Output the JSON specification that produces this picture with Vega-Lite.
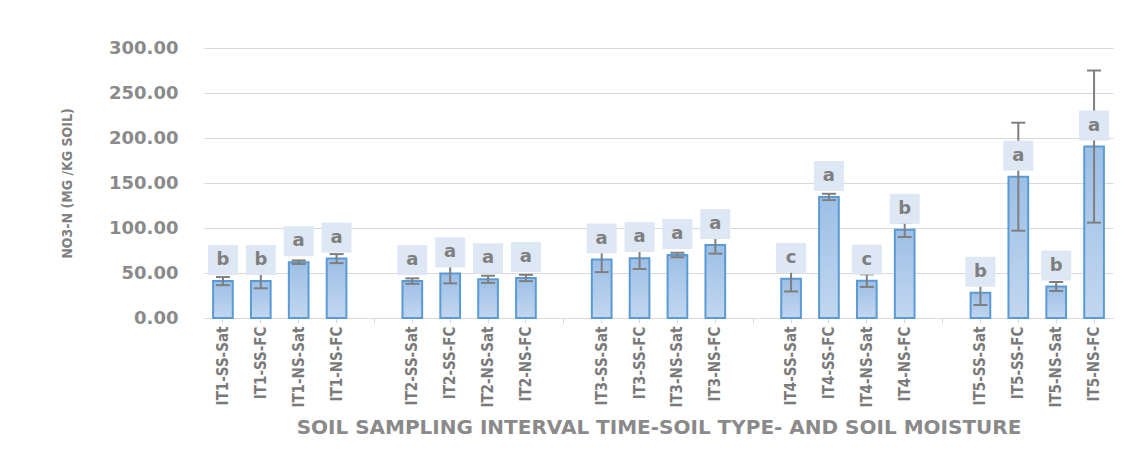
{
  "$schema": "https://vega.github.io/schema/vega-lite/v6.json",
  "width": 909,
  "height": 270,
  "autosize": {"type": "none"},
  "padding": {"left": 204, "top": 48, "right": 22, "bottom": 137},
  "background": "white",
  "config": {"view": {"stroke": null}},
  "data": {
    "values": [
      {"treatment": "IT1-SS-Sat", "mean": 41, "lo": 36.5, "hi": 45.5, "letter": "b"},
      {"treatment": "IT1-SS-FC", "mean": 41, "lo": 33, "hi": 49, "letter": "b"},
      {"treatment": "IT1-NS-Sat", "mean": 62, "lo": 60, "hi": 64, "letter": "a"},
      {"treatment": "IT1-NS-FC", "mean": 66, "lo": 61, "hi": 71, "letter": "a"},
      {"treatment": "IT2-SS-Sat", "mean": 41, "lo": 38, "hi": 44, "letter": "a"},
      {"treatment": "IT2-SS-FC", "mean": 49.5, "lo": 38.5, "hi": 60.5, "letter": "a"},
      {"treatment": "IT2-NS-Sat", "mean": 43, "lo": 39, "hi": 47, "letter": "a"},
      {"treatment": "IT2-NS-FC", "mean": 44.5, "lo": 41, "hi": 48, "letter": "a"},
      {"treatment": "IT3-SS-Sat", "mean": 65, "lo": 51, "hi": 79, "letter": "a"},
      {"treatment": "IT3-SS-FC", "mean": 66.5, "lo": 54.5, "hi": 78.5, "letter": "a"},
      {"treatment": "IT3-NS-Sat", "mean": 70, "lo": 67.5, "hi": 72.5, "letter": "a"},
      {"treatment": "IT3-NS-FC", "mean": 81, "lo": 71.5, "hi": 90.5, "letter": "a"},
      {"treatment": "IT4-SS-Sat", "mean": 43.5, "lo": 29.5, "hi": 57.5, "letter": "c"},
      {"treatment": "IT4-SS-FC", "mean": 134.5, "lo": 131, "hi": 138, "letter": "a"},
      {"treatment": "IT4-NS-Sat", "mean": 41.5, "lo": 34.5, "hi": 48.5, "letter": "c"},
      {"treatment": "IT4-NS-FC", "mean": 98, "lo": 90, "hi": 106, "letter": "b"},
      {"treatment": "IT5-SS-Sat", "mean": 28, "lo": 14.5, "hi": 41.5, "letter": "b"},
      {"treatment": "IT5-SS-FC", "mean": 157, "lo": 97, "hi": 217, "letter": "a"},
      {"treatment": "IT5-NS-Sat", "mean": 35, "lo": 30, "hi": 40, "letter": "b"},
      {"treatment": "IT5-NS-FC", "mean": 190.5, "lo": 106, "hi": 275, "letter": "a"}
    ]
  },
  "layer": [
    {
      "mark": {
        "type": "bar",
        "fill": {
          "gradient": "linear",
          "x1": 0, "y1": 0, "x2": 0, "y2": 1,
          "stops": [
            {"offset": 0, "color": "#9dbfe6"},
            {"offset": 1, "color": "#c2d7ef"}
          ]
        },
        "stroke": "#5b9bd5",
        "strokeWidth": 2
      },
      "encoding": {
        "x": {
          "field": "treatment",
          "type": "nominal",
          "sort": null,
          "scale": {
            "domain": ["IT1-SS-Sat", "IT1-SS-FC", "IT1-NS-Sat", "IT1-NS-FC", " ",
                       "IT2-SS-Sat", "IT2-SS-FC", "IT2-NS-Sat", "IT2-NS-FC", "  ",
                       "IT3-SS-Sat", "IT3-SS-FC", "IT3-NS-Sat", "IT3-NS-FC", "   ",
                       "IT4-SS-Sat", "IT4-SS-FC", "IT4-NS-Sat", "IT4-NS-FC", "    ",
                       "IT5-SS-Sat", "IT5-SS-FC", "IT5-NS-Sat", "IT5-NS-FC"],
            "paddingInner": 0.48,
            "paddingOuter": 0.24
          },
          "axis": {
            "title": "SOIL SAMPLING INTERVAL TIME-SOIL TYPE- AND SOIL MOISTURE",
            "labelAngle": -90,
            "labelOverlap": false,
            "domainColor": "#d9d9d9",
            "tickColor": "#d9d9d9",
            "tickSize": 5,
            "labelPadding": 3,
            "labelFont": "DejaVu Sans Condensed",
            "labelFontSize": 15,
            "labelFontWeight": "bold",
            "labelColor": "#7a7a7a",
            "titleFont": "DejaVu Sans",
            "titleFontSize": 20,
            "titleFontWeight": "bold",
            "titleColor": "#8a8a8a",
            "titlePadding": 10,
            "grid": false
          }
        },
        "y": {
          "field": "mean",
          "type": "quantitative",
          "scale": {"domain": [0, 300]},
          "axis": {
            "title": "NO3-N (MG /KG SOIL)",
            "values": [0, 50, 100, 150, 200, 250, 300],
            "format": ".2f",
            "grid": true,
            "gridColor": "#d9d9d9",
            "domain": false,
            "ticks": false,
            "labelPadding": 26,
            "labelFont": "DejaVu Sans",
            "labelFontSize": 18,
            "labelFontWeight": "bold",
            "labelColor": "#8a8a8a",
            "titleFont": "DejaVu Sans Condensed",
            "titleFontSize": 14,
            "titleFontWeight": "bold",
            "titleColor": "#808080",
            "titlePadding": 34
          }
        }
      }
    },
    {
      "mark": {"type": "rule", "color": "#7f7f7f", "strokeWidth": 2},
      "encoding": {
        "x": {"field": "treatment", "type": "nominal", "sort": null},
        "y": {"field": "lo", "type": "quantitative"},
        "y2": {"field": "hi"}
      }
    },
    {
      "mark": {"type": "tick", "color": "#7f7f7f", "thickness": 2, "size": 14, "opacity": 1},
      "encoding": {
        "x": {"field": "treatment", "type": "nominal", "sort": null},
        "y": {"field": "lo", "type": "quantitative"}
      }
    },
    {
      "mark": {"type": "tick", "color": "#7f7f7f", "thickness": 2, "size": 14, "opacity": 1},
      "encoding": {
        "x": {"field": "treatment", "type": "nominal", "sort": null},
        "y": {"field": "hi", "type": "quantitative"}
      }
    },
    {
      "mark": {
        "type": "point",
        "shape": "square",
        "size": 900,
        "filled": true,
        "fill": "#dde8f4",
        "opacity": 1,
        "yOffset": -21
      },
      "encoding": {
        "x": {"field": "treatment", "type": "nominal", "sort": null},
        "y": {"field": "mean", "type": "quantitative"}
      }
    },
    {
      "mark": {
        "type": "text",
        "yOffset": -21,
        "baseline": "middle",
        "align": "center",
        "font": "DejaVu Sans",
        "fontSize": 18,
        "fontWeight": "bold",
        "color": "#7f7f7f"
      },
      "encoding": {
        "x": {"field": "treatment", "type": "nominal", "sort": null},
        "y": {"field": "mean", "type": "quantitative"},
        "text": {"field": "letter"}
      }
    }
  ]
}
